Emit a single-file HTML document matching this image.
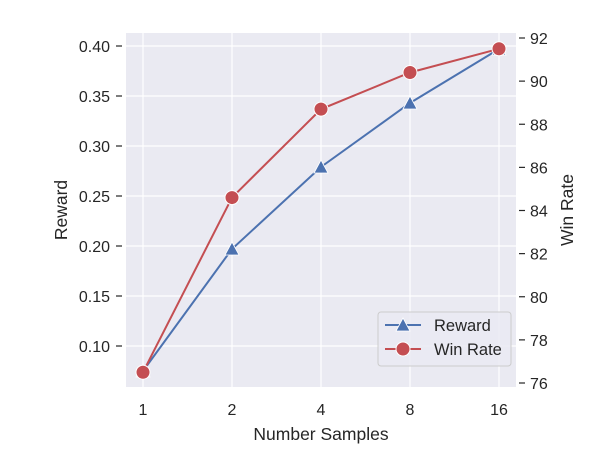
<!DOCTYPE html>
<html><head><meta charset="utf-8"><style>
body{margin:0;background:#fff}
svg{display:block;font-family:"Liberation Sans","DejaVu Sans",sans-serif}
</style></head><body>
<svg id="chart" width="602" height="470" viewBox="0 0 602 470">
<rect x="126" y="33" width="390" height="354" fill="#eaeaf2"/>
<g id="grid"></g><g id="axes"></g><g id="marks"></g>
<text x="321" y="440" font-size="17.5" text-anchor="middle" fill="#262626">Number Samples</text>
<text transform="translate(67,210) rotate(-90)" font-size="17.5" text-anchor="middle" fill="#262626">Reward</text>
<text transform="translate(573,210) rotate(-90)" font-size="17.5" text-anchor="middle" fill="#262626">Win Rate</text>
<g>
<rect x="378" y="312" width="133" height="54" rx="3" fill="#eaeaf2" fill-opacity="0.8" stroke="#cccccc"/>
<line x1="385" y1="325" x2="421" y2="325" stroke="#4c72b0" stroke-width="2"/>
<polygon points="403,318 410,331 396,331" fill="#4c72b0" stroke="#fff" stroke-width="0.8"/>
<text x="434" y="331" font-size="16.5" fill="#262626">Reward</text>
<line x1="385" y1="349" x2="421" y2="349" stroke="#c44e52" stroke-width="2"/>
<circle cx="403" cy="349" r="7" fill="#c44e52" stroke="#fff" stroke-width="1"/>
<text x="434" y="355" font-size="16.5" fill="#262626">Win Rate</text>
</g>
</svg>
<script>
const categories=["1","2","4","8","16"];
const rewardValues=[0.075,0.197,0.279,0.343,0.397];
const winRateValues=[76.5,84.6,88.7,90.4,91.5];
const leftTicks=[0.10,0.15,0.20,0.25,0.30,0.35,0.40];
const rightTicks=[76,78,80,82,84,86,88,90,92];
const NS="http://www.w3.org/2000/svg";
function xPos(i){return 143+i*89;}
function yLeft(v){return 46+(0.40-v)*1000;}
function yRight(v){return 383-(v-76)*21.5625;}
function mk(tag,attrs,parent){const e=document.createElementNS(NS,tag);for(const k in attrs)e.setAttribute(k,attrs[k]);document.getElementById(parent).appendChild(e);return e;}
categories.forEach((c,i)=>{
 const g=mk('line',{x1:xPos(i),x2:xPos(i),y1:33,y2:387,stroke:'#fff','stroke-width':1.2},'grid');
 
 
 const t=mk('text',{x:xPos(i),y:415,'font-size':16,'text-anchor':'middle',fill:'#262626'},'axes');
 t.textContent=c;
 
 
});
leftTicks.forEach(v=>{
 const y=yLeft(v);
 const g=mk('line',{x1:126,x2:516,y1:y,y2:y,stroke:'#fff','stroke-width':1.2},'grid');
 
 
 mk('line',{x1:116,x2:122,y1:y,y2:y,stroke:'#262626','stroke-width':1.2},'axes');
 const t=mk('text',{x:110,y:y+6,'font-size':16,'text-anchor':'end',fill:'#262626'},'axes');
 t.textContent=v.toFixed(2);
 
 
});
rightTicks.forEach(v=>{
 const y=yRight(v);
 mk('line',{x1:519,x2:525,y1:y,y2:y,stroke:'#262626','stroke-width':1.2},'axes');
 const t=mk('text',{x:530,y:y+6,'font-size':16,fill:'#262626'},'axes');
 t.textContent=v;
 
 
});
const rl=mk('polyline',{points:rewardValues.map((v,i)=>xPos(i)+','+yLeft(v)).join(' '),fill:'none',stroke:'#4c72b0','stroke-width':2},'marks');


rewardValues.forEach((v,i)=>{
 const x=xPos(i),y=yLeft(v);
 const p=mk('polygon',{points:`${x},${y-7} ${x+7},${y+6} ${x-7},${y+6}`,fill:'#4c72b0',stroke:'#fff','stroke-width':0.8},'marks');
 
 
});
const wl=mk('polyline',{points:winRateValues.map((v,i)=>xPos(i)+','+yRight(v)).join(' '),fill:'none',stroke:'#c44e52','stroke-width':2},'marks');


winRateValues.forEach((v,i)=>{
 const c=mk('circle',{cx:xPos(i),cy:yRight(v),r:7,fill:'#c44e52',stroke:'#fff','stroke-width':1},'marks');
 
 
});
</script>
</body></html>
